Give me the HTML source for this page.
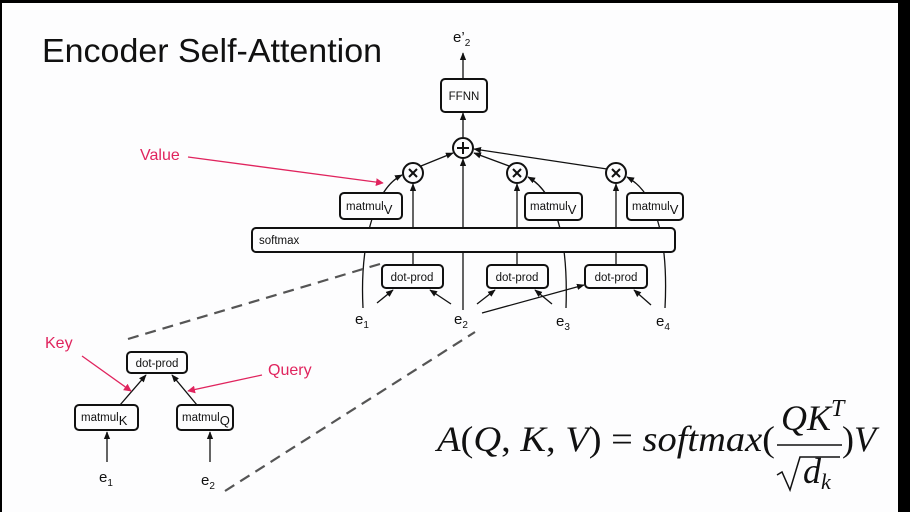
<!DOCTYPE html>
<html><head><meta charset="utf-8"><style>
html,body{margin:0;padding:0;background:#000;}
svg{display:block;}
</style></head><body>
<svg width="910" height="512" viewBox="0 0 910 512" xmlns="http://www.w3.org/2000/svg" font-family="Liberation Sans, sans-serif">
<defs>
<marker id="a" viewBox="0 0 10 10" refX="9" refY="5" markerWidth="6" markerHeight="6" orient="auto-start-reverse"><path d="M0,1 L10,5 L0,9 z" fill="#111"/></marker>
<marker id="r" viewBox="0 0 10 10" refX="9" refY="5" markerWidth="6" markerHeight="6" orient="auto"><path d="M0,0 L10,5 L0,10 z" fill="#e0245e"/></marker>
</defs>
<rect x="0" y="0" width="910" height="512" fill="#000"/>
<rect x="2" y="3" width="896" height="509" fill="#fdfdfe"/>
<text x="42" y="62" font-size="33" fill="#111" textLength="340" lengthAdjust="spacingAndGlyphs">Encoder Self-Attention</text>

<g stroke="#111" stroke-width="1.3" fill="none">
<line x1="463" y1="79" x2="463" y2="53" marker-end="url(#a)"/>
<line x1="463" y1="137" x2="463" y2="113" marker-end="url(#a)"/>
<line x1="463" y1="310" x2="463" y2="159" marker-end="url(#a)"/>
<line x1="421" y1="166" x2="453" y2="153" marker-end="url(#a)"/>
<line x1="509" y1="166" x2="474" y2="153" marker-end="url(#a)"/>
<line x1="607" y1="169" x2="474" y2="149" marker-end="url(#a)"/>
<line x1="413" y1="265" x2="413" y2="184" marker-end="url(#a)"/>
<line x1="517" y1="265" x2="517" y2="184" marker-end="url(#a)"/>
<line x1="616" y1="265" x2="616" y2="184" marker-end="url(#a)"/>
<path d="M363,308 C360,250 372,190 402,175" marker-end="url(#a)"/>
<path d="M566,308 C568,250 560,195 528,177" marker-end="url(#a)"/>
<path d="M665,308 C668,250 660,195 627,177" marker-end="url(#a)"/>
<line x1="377" y1="303" x2="393" y2="290" marker-end="url(#a)"/>
<line x1="451" y1="304" x2="430" y2="290" marker-end="url(#a)"/>
<line x1="477" y1="304" x2="495" y2="290" marker-end="url(#a)"/>
<line x1="552" y1="304" x2="535" y2="290" marker-end="url(#a)"/>
<line x1="482" y1="313" x2="584" y2="285" marker-end="url(#a)"/>
<line x1="651" y1="305" x2="634" y2="290" marker-end="url(#a)"/>
<line x1="120" y1="405" x2="146" y2="375" marker-end="url(#a)"/>
<line x1="197" y1="405" x2="172" y2="375" marker-end="url(#a)"/>
<line x1="107" y1="462" x2="107" y2="432" marker-end="url(#a)"/>
<line x1="210" y1="462" x2="210" y2="432" marker-end="url(#a)"/>
</g>
<g stroke="#555" stroke-width="2.2" stroke-dasharray="11,7" fill="none">
<line x1="128" y1="339" x2="380" y2="264"/>
<line x1="225" y1="491" x2="475" y2="332"/>
</g>
<g stroke="#e0245e" stroke-width="1.3" fill="none">
<line x1="188" y1="157" x2="383" y2="183" marker-end="url(#r)"/>
<line x1="82" y1="356" x2="131" y2="391" marker-end="url(#r)"/>
<line x1="262" y1="375" x2="188" y2="391" marker-end="url(#r)"/>
</g>
<g fill="#e0245e" font-size="16">
<text x="140" y="160">Value</text>
<text x="45" y="348">Key</text>
<text x="268" y="375">Query</text>
</g>

<g stroke="#111" stroke-width="2" fill="#fdfdfe">
<rect x="441" y="79" width="46" height="33" rx="4"/>
<rect x="340" y="193" width="62" height="26" rx="4"/>
<rect x="525" y="193" width="57" height="27" rx="4"/>
<rect x="627" y="193" width="56" height="27" rx="4"/>
<rect x="252" y="228" width="423" height="24" rx="4"/>
<rect x="382" y="265" width="61" height="23" rx="4"/>
<rect x="487" y="265" width="61" height="23" rx="4"/>
<rect x="585" y="265" width="62" height="23" rx="4"/>
<rect x="127" y="352" width="60" height="21" rx="4"/>
<rect x="75" y="405" width="63" height="25" rx="4"/>
<rect x="177" y="405" width="56" height="25" rx="4"/>
<circle cx="463" cy="148" r="10"/>
<circle cx="413" cy="173" r="10"/>
<circle cx="517" cy="173" r="10"/>
<circle cx="616" cy="173" r="10"/>
</g>
<g stroke="#111" stroke-width="2">
<line x1="457" y1="148" x2="469" y2="148"/><line x1="463" y1="142" x2="463" y2="154"/>
<line x1="409" y1="169" x2="417" y2="177"/><line x1="417" y1="169" x2="409" y2="177"/>
<line x1="513" y1="169" x2="521" y2="177"/><line x1="521" y1="169" x2="513" y2="177"/>
<line x1="612" y1="169" x2="620" y2="177"/><line x1="620" y1="169" x2="612" y2="177"/>
</g>
<g font-size="11.5" fill="#111">
<text x="464" y="100" text-anchor="middle">FFNN</text>
<text x="346" y="210">matmul<tspan font-size="13" dy="4">V</tspan></text>
<text x="530" y="210">matmul<tspan font-size="13" dy="4">V</tspan></text>
<text x="632" y="210">matmul<tspan font-size="13" dy="4">V</tspan></text>
<text x="259" y="244">softmax</text>
<text x="412" y="281" text-anchor="middle">dot-prod</text>
<text x="517" y="281" text-anchor="middle">dot-prod</text>
<text x="616" y="281" text-anchor="middle">dot-prod</text>
<text x="157" y="367" text-anchor="middle">dot-prod</text>
<text x="81" y="421">matmul<tspan font-size="13" dy="4">K</tspan></text>
<text x="182" y="421">matmul<tspan font-size="13" dy="4">Q</tspan></text>
</g>
<g font-size="15" fill="#111">
<text x="453" y="42">e’<tspan font-size="10" dy="4">2</tspan></text>
<text x="355" y="324">e<tspan font-size="10" dy="4">1</tspan></text>
<text x="454" y="324">e<tspan font-size="10" dy="4">2</tspan></text>
<text x="556" y="326">e<tspan font-size="10" dy="4">3</tspan></text>
<text x="656" y="326">e<tspan font-size="10" dy="4">4</tspan></text>
<text x="99" y="482">e<tspan font-size="10" dy="4">1</tspan></text>
<text x="201" y="485">e<tspan font-size="10" dy="4">2</tspan></text>
</g>
<g font-family="Liberation Serif, serif" fill="#111" font-size="36">
<text x="437" y="451" textLength="338" lengthAdjust="spacingAndGlyphs"><tspan font-style="italic">A</tspan>(<tspan font-style="italic">Q</tspan>, <tspan font-style="italic">K</tspan>, <tspan font-style="italic">V</tspan>) = <tspan font-style="italic">softmax</tspan>(</text>
<text x="781" y="430" font-style="italic">QK<tspan font-size="24" dy="-14">T</tspan></text>
<line x1="777" y1="445" x2="842" y2="445" stroke="#111" stroke-width="1.5"/>
<path d="M777,475 L782,472 L790,490 L800,457 L840,457" stroke="#111" stroke-width="1.5" fill="none"/>
<text x="803" y="483" font-style="italic">d<tspan font-size="22" dy="6">k</tspan></text>
<text x="842" y="451">)<tspan font-style="italic">V</tspan></text>
</g>
</svg>
</body></html>
